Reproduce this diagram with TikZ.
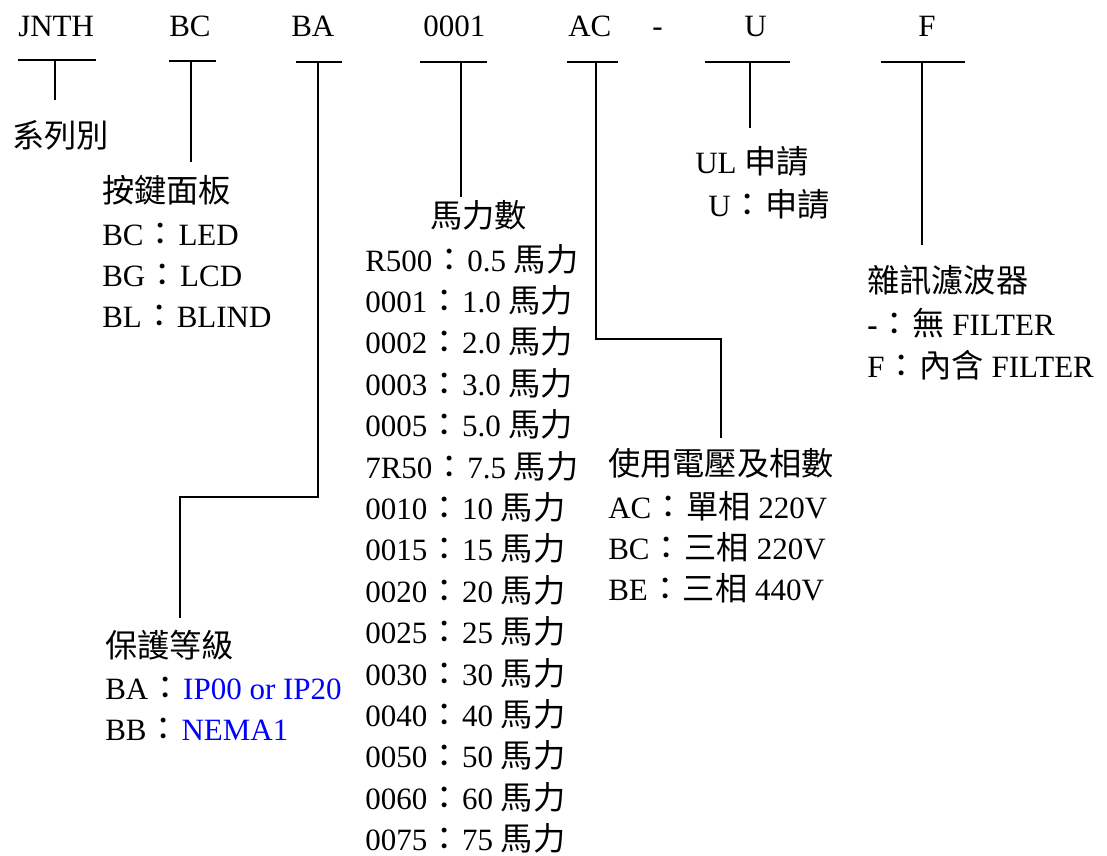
\documentclass[tikz,border=0pt]{standalone}
\usepackage{fontspec}
\setmainfont{Liberation Serif}
\newfontfamily\cjkfont[Scale=1.04]{Noto Sans CJK TC}
\newcommand{\ZH}[1]{{\cjkfont #1}}
\newcommand{\CL}{\hspace{1pt}{\cjkfont ：}\hspace{1pt}}
\definecolor{ipblue}{RGB}{0,0,255}
\begin{document}
\begin{tikzpicture}[x=0.75pt,y=-0.75pt,
  txt/.style={anchor=base west, inner sep=0pt, font=\fontsize{23.25}{28}\selectfont},
  conn/.style={line width=1.4pt, line join=miter}]
\useasboundingbox (0,0) rectangle (1107,856);

% ---- top code row ----
\node[txt] (kJ) at (18,37) {JNTH};
\node[txt] (kBC) at (169,37) {BC};
\node[txt] (kBA) at (291,37) {BA};
\node[txt] (k01) at (423,37) {0001};
\node[txt] (kAC) at (568,37) {AC};
\node[txt] (kDash) at (652,37) {-};
\node[txt] (kU) at (744,37) {U};
\node[txt] (kF) at (918,37) {F};

% ---- labels ----
\node[txt] (lSer) at (12,147) {\ZH{系列別}};

\node[txt] (lKey) at (102,202) {\ZH{按鍵面板}};
\node[txt] (lKey1) at (102,245) {BC\CL LED};
\node[txt] (lKey2) at (102,286) {BG\CL LCD};
\node[txt] (lKey3) at (102,327) {BL\CL BLIND};

\node[txt] (lHp) at (430,227) {\ZH{馬力數}};
\foreach \c/\v [count=\i from 0] in {R500/0.5,0001/1.0,0002/2.0,0003/3.0,0005/5.0,7R50/7.5,0010/10,0015/15,0020/20,0025/25,0030/30,0040/40,0050/50,0060/60,0075/75}
  \node[txt] (hp\i) at (365,{271+41.4*\i}) {\c\CL\v\ \ZH{馬力}};

\node[txt] (lUL) at (695,173) {UL \ZH{申請}};
\node[txt] (lUL1) at (708,216) {U\CL\ZH{申請}};

\node[txt] (lFil) at (867,292) {\ZH{雜訊濾波器}};
\node[txt] (lFil1) at (867,335) {\textbf{-}\CL\ZH{無} FILTER};
\node[txt] (lFil2) at (867,377) {F\CL\ZH{內含} FILTER};

\node[txt] (lVol) at (608,475) {\ZH{使用電壓及相數}};
\node[txt] (lVol1) at (608,518) {AC\CL\ZH{單相} 220V};
\node[txt] (lVol2) at (608,559) {BC\CL\ZH{三相} 220V};
\node[txt] (lVol3) at (608,600) {BE\CL\ZH{三相} 440V};

\node[txt] (lIP) at (105,657) {\ZH{保護等級}};
\node[txt] (lIP1) at (105,699) {BA\CL\textcolor{ipblue}{IP00 or IP20}};
\node[txt] (lIP2) at (105,740) {BB\CL\textcolor{ipblue}{NEMA1}};

% ---- bars and connectors ----
% JNTH
\coordinate (jl) at (18,60); \coordinate (jr) at (96,60);
\coordinate (jm) at (55,60); \coordinate (je) at (55,100);
\draw[conn] (jl) -- (jr); \draw[conn] (jm) -- (je);
% BC
\coordinate (bl) at (169,61); \coordinate (br) at (216,61);
\coordinate (bm) at (191,61); \coordinate (be) at (191,162);
\draw[conn] (bl) -- (br); \draw[conn] (bm) -- (be);
% BA
\coordinate (al) at (296,62); \coordinate (ar) at (342,62);
\coordinate (am) at (318,62); \coordinate (a1) at (318,497);
\coordinate (a2) at (180,497); \coordinate (ae) at (180,618);
\draw[conn] (al) -- (ar); \draw[conn] (am) -- (a1) -- (a2) -- (ae);
% 0001
\coordinate (hl) at (420,62); \coordinate (hr) at (487,62);
\coordinate (hm) at (461,62); \coordinate (he) at (461,197);
\draw[conn] (hl) -- (hr); \draw[conn] (hm) -- (he);
% AC
\coordinate (cl) at (567,62); \coordinate (cr) at (618,62);
\coordinate (cm) at (596,62); \coordinate (c1) at (596,339);
\coordinate (c2) at (721,339); \coordinate (ce) at (721,438);
\draw[conn] (cl) -- (cr); \draw[conn] (cm) -- (c1) -- (c2) -- (ce);
% U
\coordinate (ul) at (705,62); \coordinate (ur) at (790,62);
\coordinate (um) at (750,62); \coordinate (ue) at (750,128);
\draw[conn] (ul) -- (ur); \draw[conn] (um) -- (ue);
% F
\coordinate (fl) at (881,62); \coordinate (fr) at (965,62);
\coordinate (fm) at (922,62); \coordinate (fe) at (922,245);
\draw[conn] (fl) -- (fr); \draw[conn] (fm) -- (fe);
\end{tikzpicture}
\end{document}
